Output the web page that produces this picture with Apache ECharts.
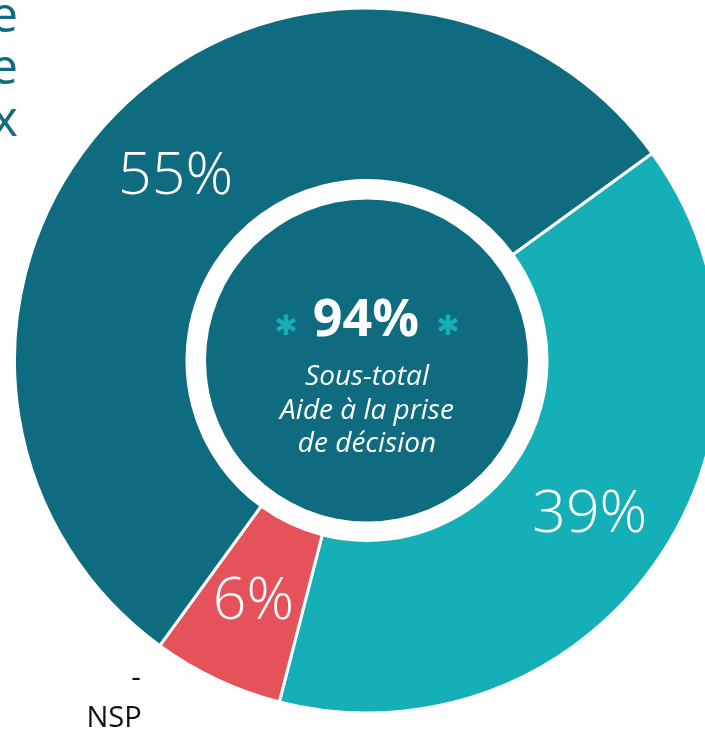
<!DOCTYPE html>
<html><head><meta charset="utf-8">
<script src="https://cdn.jsdelivr.net/npm/echarts@6/dist/echarts.min.js"></script>
<style>html,body{margin:0;padding:0;background:#fff;overflow:hidden}#c{width:705px;height:733px}</style>
</head><body><div id="c"></div>
<script>
// Slices in clockwise order starting from the upper-right boundary
const categories = ['Oui, plutôt', 'Non', 'Oui, tout à fait'];
const values = [39, 6, 55];
const colors = ['#14afb7', '#e6525a', '#0f6b80'];
// Center summary
const subtotalValue = 94;
const subtotalLines = ['Sous-total', 'Aide à la prise', 'de décision'];
// Clipped legend fragments visible at top-left
const legendFragments = ['e', 'e', 'x'];
// Zero category shown outside the ring
const nspLabel = 'NSP';
const nspValue = '-';

const chart = echarts.init(document.getElementById('c'));
const CX = 367, CY = 360.5;
const dark = '#0f6b80', teal = '#14afb7';
const labelOffsets = [[0, 3], [1, -2], [-1, 7]];

const graphics = [
  { type: 'circle', shape: { cx: CX, cy: CY, r: 161 }, style: { fill: dark }, z: 10, silent: true },
  { type: 'text', x: 286, y: 328, z: 11, style: { text: '✱', fill: teal, font: 'bold 28px "DejaVu Sans"', align: 'center', verticalAlign: 'middle' } },
  { type: 'text', x: 448, y: 328, z: 11, style: { text: '✱', fill: teal, font: 'bold 28px "DejaVu Sans"', align: 'center', verticalAlign: 'middle' } },
  { type: 'text', x: 366, y: 321, z: 11, style: { text: subtotalValue + '%', fill: '#fff', font: 'bold 52px "Open Sans"', align: 'center', verticalAlign: 'middle' } }
];
const lineY = [377, 411, 444];
subtotalLines.forEach((t, i) => graphics.push({
  type: 'text', x: CX, y: lineY[i], z: 11,
  style: { text: t, fill: '#fff', font: 'italic 28px "Open Sans"', align: 'center', verticalAlign: 'middle' }
}));
const legY = [18, 70, 122];
legendFragments.forEach((t, i) => graphics.push({
  type: 'text', x: 18, y: legY[i], z: 11,
  style: { text: t, fill: dark, font: '50px "Open Sans"', align: 'right', verticalAlign: 'middle' }
}));
graphics.push({ type: 'text', x: 136, y: 678, style: { text: nspValue, fill: '#111', font: '30px "Open Sans"', align: 'center', verticalAlign: 'middle' } });
graphics.push({ type: 'text', x: 114, y: 719, style: { text: nspLabel, fill: '#111', font: '29px "Open Sans"', align: 'center', verticalAlign: 'middle' } });

chart.setOption({
  animation: false,
  backgroundColor: '#fff',
  series: [{
    type: 'pie',
    center: [CX, CY],
    radius: [180, 352.5],
    startAngle: 36,
    clockwise: true,
    silent: true,
    avoidLabelOverlap: false,
    itemStyle: { borderColor: '#fff', borderWidth: 3 },
    label: {
      show: true, position: 'inside',
      formatter: p => p.value + '%',
      color: '#fff', fontSize: 59, fontFamily: 'Open Sans', fontWeight: 300
    },
    labelLine: { show: false },
    data: categories.map((n, i) => ({ name: n, value: values[i], itemStyle: { color: colors[i] }, label: { offset: labelOffsets[i] } }))
  }],
  graphic: graphics
});
</script></body></html>
